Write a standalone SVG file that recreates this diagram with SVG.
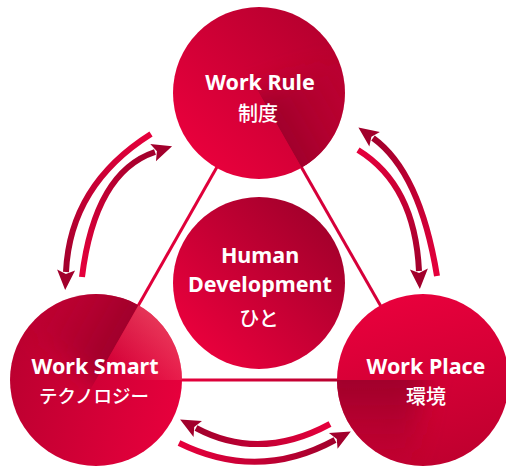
<svg xmlns="http://www.w3.org/2000/svg" width="506" height="466" viewBox="0 0 506 466">
<style>
.lbl{fill:#fff;font-family:"Noto Sans","Noto Sans CJK JP",sans-serif;font-weight:700;font-size:21.5px;text-anchor:middle}
.jp{fill:#fff;font-family:"Noto Sans CJK JP","Noto Sans",sans-serif;font-weight:500;font-size:20px;text-anchor:middle}
.kana{font-size:18.5px}
.tri{fill:none;stroke-width:3}
.arc{fill:none;stroke-width:6;stroke-linecap:butt}
.shade{fill:url(#dk);filter:url(#soft)}
</style>
<defs>
<marker id="ah" markerUnits="userSpaceOnUse" markerWidth="24" markerHeight="20" refX="2" refY="10" orient="auto" overflow="visible">
<path d="M0,1 L20,10 L0,19 L4,10 Z" fill="#a2002c"/>
</marker>
<filter id="soft" x="-50%" y="-50%" width="200%" height="200%"><feGaussianBlur stdDeviation="12"/></filter>
<clipPath id="half"><path d="M-86,0 A86,86 0 0 0 86,0 Z"/></clipPath>
<linearGradient id="dk" gradientUnits="userSpaceOnUse" x1="0" y1="-30" x2="0" y2="90"><stop offset="0" stop-color="#a0002b"/><stop offset="0.27" stop-color="#a0002b"/><stop offset="1" stop-color="#a0002b" stop-opacity="0"/></linearGradient>
<linearGradient id="gBot" gradientUnits="userSpaceOnUse" x1="182" y1="380" x2="337" y2="380"><stop offset="0" stop-color="#e6003c"/><stop offset="1" stop-color="#b8002f"/></linearGradient>
<linearGradient id="gTop" gradientUnits="userSpaceOnUse" x1="198" y1="154" x2="320" y2="32"><stop offset="0" stop-color="#e8003c"/><stop offset="1" stop-color="#b8002f"/></linearGradient>
<linearGradient id="gRight" gradientUnits="userSpaceOnUse" x1="401" y1="297" x2="445" y2="463"><stop offset="0" stop-color="#e8003c"/><stop offset="1" stop-color="#c0002f"/></linearGradient>
<linearGradient id="gLeft" gradientUnits="userSpaceOnUse" x1="179" y1="402" x2="13" y2="358"><stop offset="0" stop-color="#e6003c"/><stop offset="1" stop-color="#bc0030"/></linearGradient>
<linearGradient id="gCenter" gradientUnits="userSpaceOnUse" x1="198" y1="344" x2="320" y2="222"><stop offset="0" stop-color="#e8003c"/><stop offset="1" stop-color="#a5002c"/></linearGradient>
<linearGradient id="lLeft" gradientUnits="userSpaceOnUse" x1="165" y1="318" x2="118" y2="372"><stop offset="0" stop-color="#f06070" stop-opacity="0.6"/><stop offset="1" stop-color="#f06070" stop-opacity="0"/></linearGradient>
<linearGradient id="a1" gradientUnits="userSpaceOnUse" x1="151" y1="134" x2="66" y2="272"><stop offset="0" stop-color="#e6003c"/><stop offset="1" stop-color="#a2002c"/></linearGradient>
<linearGradient id="a2" gradientUnits="userSpaceOnUse" x1="82" y1="277" x2="155" y2="152"><stop offset="0" stop-color="#e6003c"/><stop offset="1" stop-color="#a2002c"/></linearGradient>
<linearGradient id="a3" gradientUnits="userSpaceOnUse" x1="437" y1="276" x2="373" y2="138"><stop offset="0" stop-color="#e6003c"/><stop offset="1" stop-color="#a2002c"/></linearGradient>
<linearGradient id="a4" gradientUnits="userSpaceOnUse" x1="358" y1="150" x2="419" y2="271"><stop offset="0" stop-color="#e6003c"/><stop offset="1" stop-color="#a2002c"/></linearGradient>
<linearGradient id="a5" gradientUnits="userSpaceOnUse" x1="330" y1="424" x2="196" y2="428"><stop offset="0" stop-color="#e6003c"/><stop offset="1" stop-color="#a2002c"/></linearGradient>
<linearGradient id="a6" gradientUnits="userSpaceOnUse" x1="179" y1="443" x2="335" y2="440"><stop offset="0" stop-color="#e6003c"/><stop offset="1" stop-color="#a2002c"/></linearGradient>
</defs>
<rect width="506" height="466" fill="#fff"/>
<g id="connectors">
<path class="tri" stroke="#e0003a" d="M259,93 L96,380"/>
<path class="tri" stroke="#d6003a" d="M259,93 L423,380"/>
<path class="tri" stroke="url(#gBot)" d="M96,380 L423,380"/>
<path class="arc" stroke="url(#a1)" marker-end="url(#ah)" d="M151,134 Q70,185 66,272"/>
<path class="arc" stroke="url(#a2)" marker-end="url(#ah)" d="M82,277 Q95,172 155,152"/>
<path class="arc" stroke="url(#a3)" marker-end="url(#ah)" d="M437,276 Q420,172 373,138"/>
<path class="arc" stroke="url(#a4)" marker-end="url(#ah)" d="M358,150 Q415,185 419,271"/>
<path class="arc" stroke="url(#a5)" marker-end="url(#ah)" d="M330,424 Q260,462 196,428"/>
<path class="arc" stroke="url(#a6)" marker-end="url(#ah)" d="M179,443 Q258,482 335,440"/>
</g>
<g id="work-rule">
<circle cx="259" cy="93" r="86" fill="url(#gTop)"/>
<g transform="translate(259,93) rotate(-119.7)" clip-path="url(#half)"><path class="shade" d="M6,-30 L-110,-30 L-110,115 L-18,115 Z"/></g>
<text class="lbl" x="260" y="90">Work Rule</text>
<text class="jp" x="258" y="121">制度</text>
</g>
<g id="work-smart">
<circle cx="96" cy="380" r="86" fill="url(#gLeft)"/>
<g transform="translate(96,380) rotate(119.6)" clip-path="url(#half)"><path class="shade" d="M6,-30 L-110,-30 L-110,115 L-18,115 Z"/></g>
<path d="M96,380 L138.5,305.2 A86,86 0 0 1 182,380 Z" fill="url(#lLeft)"/>
<text class="lbl" x="95" y="374">Work Smart</text>
<text class="jp kana" x="94" y="403">テクノロジー</text>
</g>
<g id="work-place">
<circle cx="423" cy="380" r="86" fill="url(#gRight)"/>
<g transform="translate(423,380)" clip-path="url(#half)"><path class="shade" d="M6,-30 L-110,-30 L-110,115 L-18,115 Z"/></g>
<text class="lbl" x="426" y="374">Work Place</text>
<text class="jp" x="426" y="404">環境</text>
</g>
<g id="human-development">
<circle cx="259" cy="283" r="86" fill="url(#gCenter)"/>
<text class="lbl" x="260" y="263">Human</text>
<text class="lbl" x="260" y="292">Development</text>
<text class="jp" x="259" y="326">ひと</text>
</g>
</svg>
